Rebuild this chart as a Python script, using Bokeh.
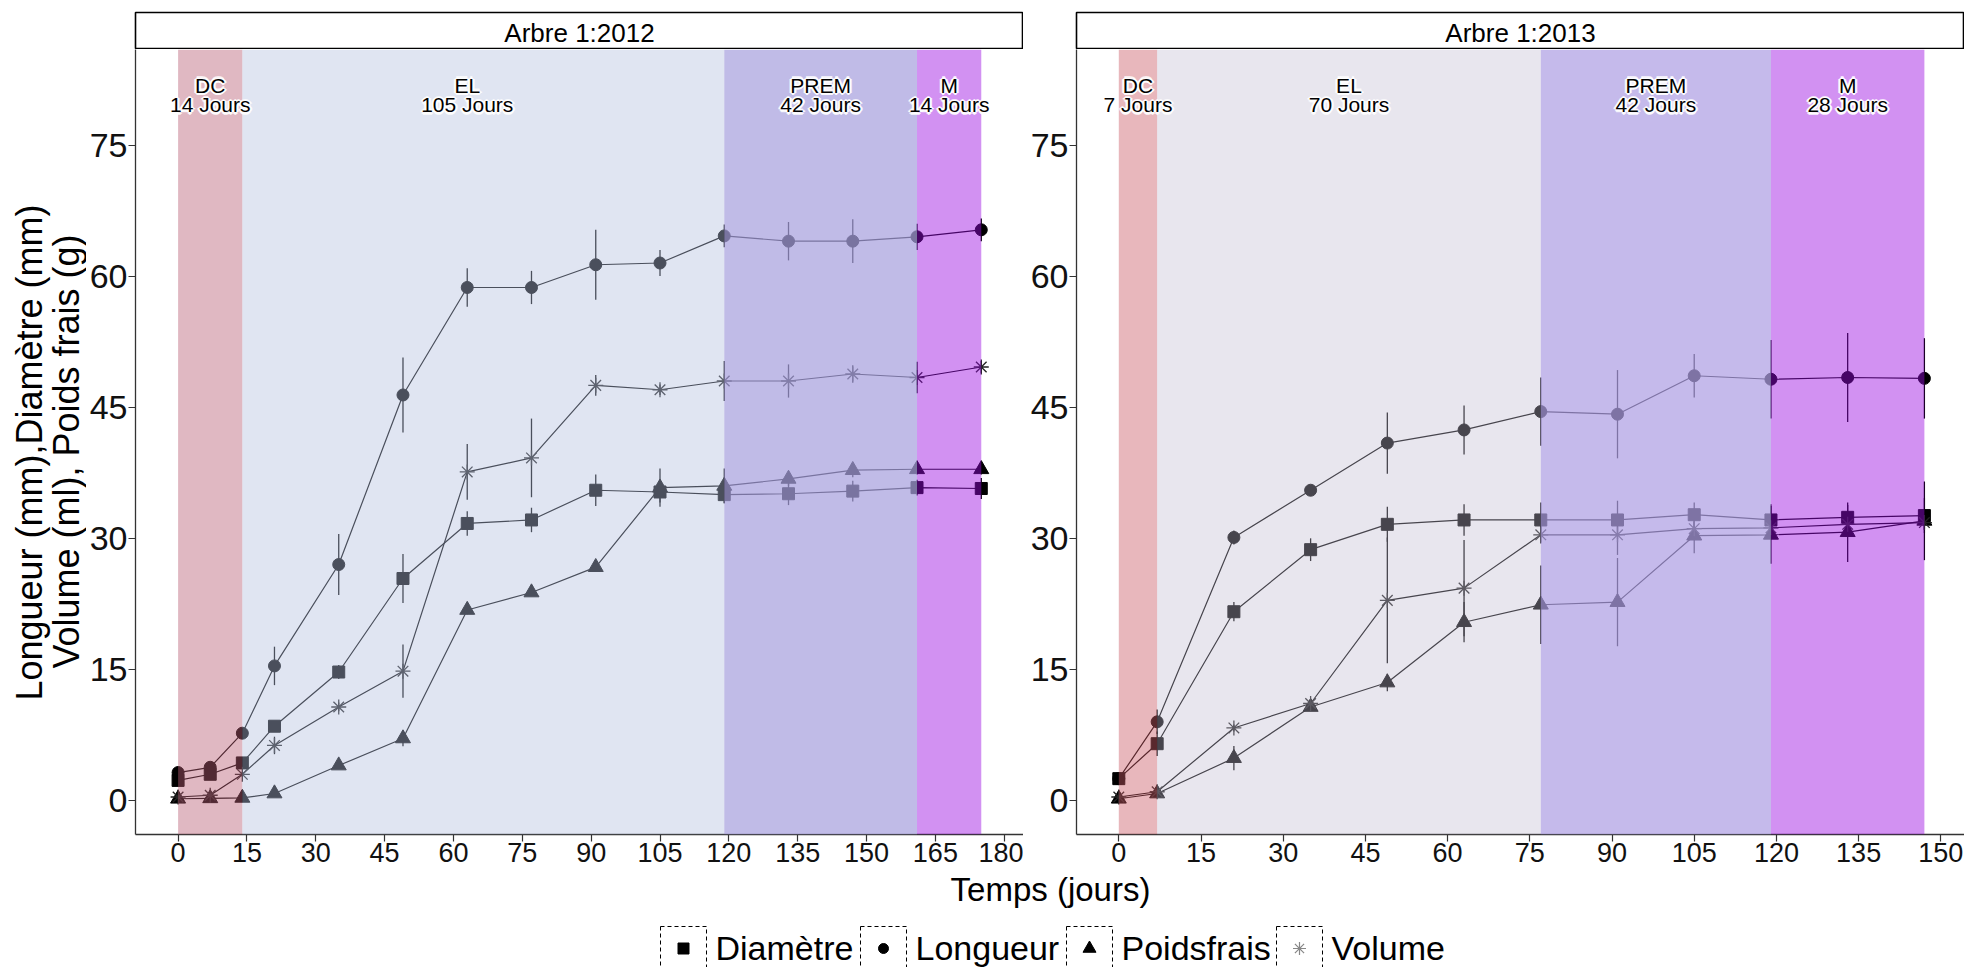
import numpy as np
from bokeh.plotting import figure
from bokeh.models import Range1d, FixedTicker, BoxAnnotation
from bokeh.layouts import row, column
from bokeh.embed import file_html
from bokeh.resources import INLINE
from bokeh.core.properties import value

FONT_NAME = "Liberation Sans"
FONT = value(FONT_NAME)

# ---------------- data ----------------
series_names = ["Diamètre", "Longueur", "Poidsfrais", "Volume"]
series_markers = ["square", "circle", "triangle", "asterisk"]

days_2012 = [0, 7, 14, 21, 35, 49, 63, 77, 91, 105, 119, 133, 147, 161, 175]
diametre_2012 = [2.3, 3.0, 4.3, 8.5, 14.7, 25.4, 31.7, 32.1, 35.5, 35.3, 35.0, 35.1, 35.4, 35.8, 35.7]
diametre_err_2012 = [0.3, 0.3, 0.4, 0.4, 0.8, 2.8, 1.4, 1.4, 1.8, 1.2, 1.0, 1.3, 1.2, 0.9, 1.2]
longueur_2012 = [3.2, 3.8, 7.7, 15.4, 27.0, 46.4, 58.7, 58.7, 61.3, 61.5, 64.6, 64.0, 64.0, 64.5, 65.3]
longueur_err_2012 = [0.3, 0.4, 0.5, 2.2, 3.5, 4.3, 2.2, 1.9, 4.0, 1.5, 1.3, 2.2, 2.5, 1.5, 1.3]
poids_2012 = [0.2, 0.25, 0.3, 0.8, 4.0, 7.1, 21.8, 23.8, 26.7, 35.8, 36.0, 36.8, 37.8, 37.9, 37.9]
poids_err_2012 = [0.1, 0.1, 0.1, 0.2, 0.3, 0.9, 0.5, 0.4, 0.5, 2.2, 2.0, 0.8, 0.8, 0.6, 0.6]
volume_2012 = [0.4, 0.6, 3.0, 6.3, 10.7, 14.8, 37.6, 39.2, 47.5, 47.0, 48.0, 48.0, 48.8, 48.4, 49.6]
volume_err_2012 = [0.2, 0.2, 0.3, 1.0, 0.5, 3.05, 3.2, 4.5, 1.2, 0.6, 2.3, 1.9, 1.0, 1.8, 0.7]

days_2013 = [0, 7, 21, 35, 49, 63, 77, 91, 105, 119, 133, 147]
diametre_2013 = [2.5, 6.5, 21.6, 28.7, 31.6, 32.1, 32.1, 32.1, 32.7, 32.1, 32.4, 32.6]
diametre_err_2013 = [0.3, 1.4, 1.1, 1.3, 2.0, 1.8, 2.0, 2.2, 1.4, 1.8, 1.4, 2.0]
longueur_2013 = [2.5, 9.0, 30.1, 35.5, 40.9, 42.4, 44.5, 44.2, 48.6, 48.2, 48.4, 48.3]
longueur_err_2013 = [0.3, 1.4, 0.8, 0.4, 3.5, 2.8, 3.9, 5.05, 2.5, 4.5, 5.1, 4.6]
poids_2013 = [0.2, 0.8, 4.85, 10.7, 13.5, 20.4, 22.4, 22.7, 30.3, 30.4, 30.7, 32.0]
poids_err_2013 = [0.1, 0.2, 1.4, 0.4, 1.0, 2.3, 4.5, 5.05, 2.0, 3.3, 3.4, 4.5]
volume_2013 = [0.4, 1.0, 8.3, 11.1, 22.9, 24.3, 30.4, 30.4, 31.1, 31.2, 31.6, 31.8]
volume_err_2013 = [0.2, 0.2, 0.4, 0.5, 7.2, 5.5, 1.0, 2.3, 0.8, 0.8, 0.8, 0.8]

phase_names = ["DC", "EL", "PREM", "M"]
durations_2012 = [14, 105, 42, 14]
durations_2013 = [7, 70, 42, 28]
label_x_2012 = [7, 63, 140, 168]
label_x_2013 = [3.5, 42, 98, 133]
label_y = 80.7

y_ticks = [0, 15, 30, 45, 60, 75]
x_ticks_2012 = list(range(0, 181, 15))
x_ticks_2013 = list(range(0, 151, 15))

# ---------------- style ----------------
band_style_2012 = [("#b85d74", 0.44), ("#b4c1e0", 0.41), ("#a7a1de", 0.72), ("#9c0be3", 0.45)]
band_style_2013 = [("#ca5b66", 0.44), ("#c1bcd1", 0.37), ("#ae9fe3", 0.72), ("#9c0be3", 0.45)]
marker_size = {"square": 12, "circle": 12, "triangle": 15, "asterisk": 15}

YT_W, P1_W, P2_W = 86, 937, 941
STRIP_H, P_H, BOT_H = 49, 820, 98
AX_COL = "#333333"


def strip(title, width, border_left):
    s = figure(width=width, height=STRIP_H, x_range=Range1d(0, 1), y_range=Range1d(0, 1),
               toolbar_location=None, output_backend="svg", x_axis_type=None, y_axis_type=None,
               min_border_left=border_left, min_border_right=0, min_border_top=12, min_border_bottom=0)
    s.grid.visible = False
    s.outline_line_color = "black"
    s.outline_line_width = 1.6
    s.text(x=[0.5], y=[0.45], text=[title], text_align="center", text_baseline="middle",
           text_font=FONT, text_font_size="26px", text_color="black")
    return s


def panel(days, values, errs, durations, label_x, band_style, xr, x_ticks, width, border_left):
    p = figure(width=width, height=P_H, x_range=Range1d(*xr), y_range=Range1d(-3.89, 85.93),
               toolbar_location=None, output_backend="svg",
               min_border_left=border_left, min_border_right=0, min_border_top=0, min_border_bottom=35)
    p.outline_line_color = None
    p.grid.visible = False
    p.background_fill_color = "white"
    for ax in (p.xaxis[0], p.yaxis[0]):
        ax.axis_line_color = AX_COL
        ax.axis_line_width = 1.3
        ax.major_tick_line_color = AX_COL
        ax.major_tick_line_width = 1.2
        ax.major_tick_out = 7
        ax.major_tick_in = 0
        ax.minor_tick_line_color = None
        ax.major_label_text_font = FONT_NAME
        ax.major_label_text_color = "#111111"
    p.xaxis.ticker = FixedTicker(ticks=x_ticks)
    p.yaxis.ticker = FixedTicker(ticks=y_ticks)
    p.xaxis.major_label_text_font_size = "27px"
    p.yaxis.major_label_text_font_size = "34px"
    p.xaxis.major_label_standoff = 1
    p.yaxis.major_label_standoff = 1

    d = np.array(days, dtype=float)
    for vals, err, mk in zip(values, errs, series_markers):
        v = np.array(vals, dtype=float)
        e = np.array(err, dtype=float)
        p.segment(x0=d, y0=v - e, x1=d, y1=v + e, line_color="black", line_width=1.3)
        p.line(d, v, line_color="black", line_width=1.2)
        if mk == "asterisk":
            p.scatter(d, v, marker=mk, size=marker_size[mk], line_color="#222222", line_width=1.3)
        else:
            p.scatter(d, v, marker=mk, size=marker_size[mk], fill_color="black", line_color="black")

    starts = np.concatenate([[0], np.cumsum(durations)[:-1]])
    ends = np.cumsum(durations)
    for s0, s1, (col, a) in zip(starts, ends, band_style):
        p.add_layout(BoxAnnotation(left=float(s0), right=float(s1), fill_color=col, fill_alpha=a,
                                   line_color=None, line_alpha=0))

    labels = [f"{n}\n{dd} Jours" for n, dd in zip(phase_names, durations)]
    ly = [label_y] * len(labels)
    offs = [(-1.6, 0), (1.6, 0), (0, -1.6), (0, 1.6), (-1.2, -1.2), (1.2, 1.2), (-1.2, 1.2), (1.2, -1.2),
            (-2.5, 0), (2.5, 0), (0, 2.5), (0, -2.5)]
    for ox, oy in offs:
        r = p.text(x=label_x, y=ly, text=labels, text_align="center", text_baseline="middle",
                   text_font=FONT, text_font_size="21px", text_color="white", text_alpha=0.75,
                   text_line_height=0.85, x_offset=ox, y_offset=oy)
        r.level = "overlay"
    r = p.text(x=label_x, y=ly, text=labels, text_align="center", text_baseline="middle",
               text_font=FONT, text_font_size="21px", text_color="black",
               text_line_height=0.85)
    r.level = "overlay"
    return p


# ---- y title figure (coordinates in page pixels, y measured from its bottom) ----
yt_bottom = STRIP_H + P_H
yt = figure(width=YT_W, height=yt_bottom, x_range=Range1d(0, YT_W),
            y_range=Range1d(0, yt_bottom), toolbar_location=None, output_backend="svg",
            x_axis_type=None, y_axis_type=None, min_border=0)
yt.outline_line_color = None
yt.grid.visible = False
yt.text(x=[29, 66], y=[yt_bottom - 452, yt_bottom - 451],
        text=["Longueur (mm),Diamètre (mm)", "Volume (ml), Poids frais (g)"],
        angle=np.pi / 2, text_align="center", text_baseline="middle",
        text_font=FONT, text_font_size="36px", text_color="black")

s1 = strip("Arbre 1:2012", P1_W, 47)
p1 = panel(days_2012, [diametre_2012, longueur_2012, poids_2012, volume_2012],
           [diametre_err_2012, longueur_err_2012, poids_err_2012, volume_err_2012],
           durations_2012, label_x_2012, band_style_2012, (-9.28, 184.2), x_ticks_2012, P1_W, 47)
s2 = strip("Arbre 1:2013", P2_W, 53)
p2 = panel(days_2013, [diametre_2013, longueur_2013, poids_2013, volume_2013],
           [diametre_err_2013, longueur_err_2013, poids_err_2013, volume_err_2013],
           durations_2013, label_x_2013, band_style_2013, (-7.72, 154.32), x_ticks_2013, P2_W, 53)

# ---- bottom figure: x title and legend (page pixel coordinates) ----
TOT_W = YT_W + P1_W + P2_W
bot_bottom = yt_bottom + BOT_H
bt = figure(width=TOT_W, height=BOT_H, x_range=Range1d(0, TOT_W),
            y_range=Range1d(0, BOT_H), toolbar_location=None, output_backend="svg",
            x_axis_type=None, y_axis_type=None, min_border=0)
bt.outline_line_color = None
bt.grid.visible = False
bt.text(x=[1050], y=[bot_bottom - 889], text=["Temps (jours)"], text_align="center",
        text_baseline="middle", text_font=FONT, text_font_size="33px", text_color="black")

key_left = [660, 860, 1066, 1276]
key_w = 46
key_top = 926
bt.quad(left=key_left, right=[k + key_w for k in key_left], top=[bot_bottom - key_top] * 4,
        bottom=[-20] * 4, fill_color=None, line_color="black", line_width=1, line_dash="4 3")
kx = [k + key_w / 2 for k in key_left]
ky = bot_bottom - 948
for x, mk in zip(kx, series_markers):
    if mk == "asterisk":
        bt.scatter([x], [ky], marker=mk, size=13, line_color="#888888", line_width=1.2)
    else:
        sz = {"square": 11, "circle": 10, "triangle": 13}[mk]
        bt.scatter([x], [ky], marker=mk, size=sz, fill_color="black", line_color="black")
bt.text(x=[k + key_w + 9 for k in key_left], y=[bot_bottom - 947] * 4, text=series_names,
        text_align="left", text_baseline="middle", text_font=FONT, text_font_size="34px",
        text_color="black")

layout = column(row(yt, column(s1, p1), column(s2, p2)), bt)
open("out.html", "w").write(file_html(layout, INLINE))
